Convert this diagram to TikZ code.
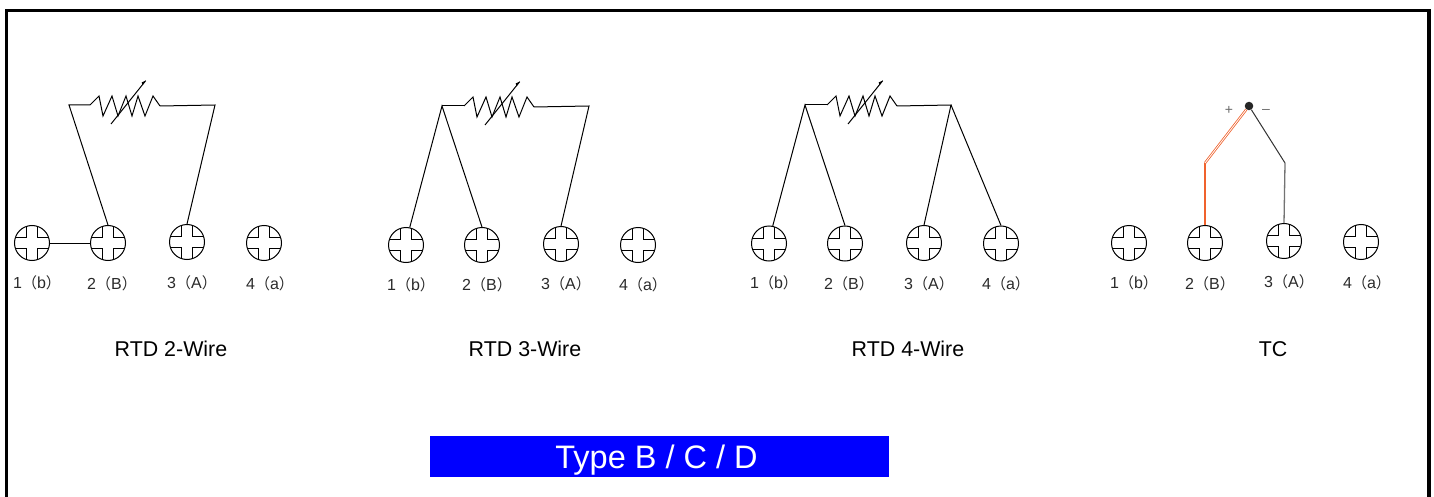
\documentclass[tikz,border=0pt]{standalone}
\usepackage{fontspec}
\setmainfont{Liberation Sans}
\newfontfamily\cjk{Noto Sans CJK SC}
\definecolor{wireorange}{HTML}{F0622D}
\definecolor{labelgray}{HTML}{2A2A2A}
\newcommand{\lbl}[2]{#1{\cjk\fontsize{15}{18}\selectfont（}#2{\cjk\fontsize{15}{18}\selectfont）}}
\tikzset{
  wire/.style={draw=black,line width=1pt},
  screw/.style={circle,draw=black,line width=1pt,minimum size=35pt,inner sep=0pt,
    path picture={
      \draw[line width=1pt] (path picture bounding box.center) ++(-5.5pt,-18pt) -- ++(0,12.5pt) -- ++(-12.5pt,0);
      \draw[line width=1pt] (path picture bounding box.center) ++(5.5pt,-18pt) -- ++(0,12.5pt) -- ++(12.5pt,0);
      \draw[line width=1pt] (path picture bounding box.center) ++(-5.5pt,18pt) -- ++(0,-12.5pt) -- ++(-12.5pt,0);
      \draw[line width=1pt] (path picture bounding box.center) ++(5.5pt,18pt) -- ++(0,-12.5pt) -- ++(12.5pt,0);
    }},
  pin/.style={text=labelgray,font=\fontsize{16}{18}\selectfont,inner sep=0pt,xshift=5pt},
  title/.style={text=black,font=\fontsize{21.4}{25}\selectfont,inner sep=0pt},
  sign/.style={text=labelgray!70,font=\fontsize{14}{16}\selectfont,inner sep=0pt},
  banner/.style={fill=blue,text=white,minimum width=459pt,minimum height=41pt,inner sep=0pt,
    text height=23pt,text depth=0pt,font=\fontsize{32.5}{36}\selectfont},
  rtd/.pic={
    \coordinate (-in) at (0,0);
    \coordinate (-out) at (70,1);
    \draw[line width=1pt] (0,0) -- (9,-9) -- (13,11) -- (22,-9) -- (28,11) -- (36,-9) -- (42,11) -- (48,-9) -- (55,11) -- (63,-9) -- (70,1);
    \draw[line width=1pt] (21,19) -- (55.7,-24.3);
    \fill (55.7,-24.3) -- (52.6,-19.8) -- (51.7,-22.6) -- cycle;
  }
}
\begin{document}
\begin{tikzpicture}[x=1pt,y=-1pt]
    \useasboundingbox (0,0) rectangle (1434,497);

    % Frame
    \draw[line width=3.2pt] (6.5,497) -- (6.5,10.5) -- (1429,10.5) -- (1429,497);

    % RTD 2-Wire
    \node[screw] (a1) at (32,243) {};
    \node[screw] (a2) at (108,243) {};
    \node[screw] (a3) at (187,242) {};
    \node[screw] (a4) at (264,243) {};
    \pic (ra) at (90,105) {rtd};
    \coordinate (atl) at (69,105);
    \coordinate (atr) at (215,105);
    \draw[wire] (a1) -- (a2);
    \draw[wire] (a2.north) -- (atl) -- (ra-in);
    \draw[wire] (ra-out) -- (atr) -- (a3.north);
    \node[pin] (la1) at (32,283) {\lbl{1}{b}};
    \node[pin] (la2) at (107,284) {\lbl{2}{B}};
    \node[pin] (la3) at (187,283) {\lbl{3}{A}};
    \node[pin] (la4) at (265,284) {\lbl{4}{a}};
    \node[title] (ta) at (171,349) {RTD 2-Wire};

    % RTD 3-Wire
    \node[screw] (b1) at (406,245) {};
    \node[screw] (b2) at (482,245) {};
    \node[screw] (b3) at (561,244) {};
    \node[screw] (b4) at (638,245) {};
    \pic (rb) at (464,106) {rtd};
    \coordinate (btl) at (442,106);
    \coordinate (btr) at (589,106);
    \draw[wire] (b1.78) -- (btl) -- (b2.north);
    \draw[wire] (btl) -- (rb-in);
    \draw[wire] (rb-out) -- (btr) -- (b3.north);
    \node[pin] (lb1) at (406,285) {\lbl{1}{b}};
    \node[pin] (lb2) at (482,285) {\lbl{2}{B}};
    \node[pin] (lb3) at (561,284) {\lbl{3}{A}};
    \node[pin] (lb4) at (638,285) {\lbl{4}{a}};
    \node[title] (tb) at (525,349) {RTD 3-Wire};

    % RTD 4-Wire
    \node[screw] (c1) at (769,243.5) {};
    \node[screw] (c2) at (845,243.5) {};
    \node[screw] (c3) at (924,243) {};
    \node[screw] (c4) at (1001,243.5) {};
    \pic (rc) at (827,105) {rtd};
    \coordinate (ctl) at (805,105);
    \coordinate (ctr) at (951,105);
    \draw[wire] (c1.78) -- (ctl) -- (c2.north);
    \draw[wire] (ctl) -- (rc-in);
    \draw[wire] (rc-out) -- (ctr) -- (c3.north);
    \draw[wire] (ctr) -- (c4.north);
    \node[pin] (lc1) at (769,283) {\lbl{1}{b}};
    \node[pin] (lc2) at (844,284) {\lbl{2}{B}};
    \node[pin] (lc3) at (924,284) {\lbl{3}{A}};
    \node[pin] (lc4) at (1001,284) {\lbl{4}{a}};
    \node[title] (tc) at (908,349) {RTD 4-Wire};

    % TC
    \node[screw] (d1) at (1129,243) {};
    \node[screw] (d2) at (1205,243) {};
    \node[screw] (d3) at (1284,241) {};
    \node[screw] (d4) at (1361,242) {};
    \node[circle,fill=black!85,inner sep=0pt,minimum size=8.5pt] (jn) at (1249,106) {};
    \coordinate (dp) at (1205,163);
    \coordinate (dm) at (1285,163);
    \draw[wireorange,line width=1.3pt] (d2.north) -- (dp);
    \draw[wireorange,double=white,line width=0.8pt,double distance=0.8pt] (dp) -- (jn);
    \draw[black!80,line width=1pt] (jn) -- (dm);
    \draw[black!55,line width=1.3pt] (dm) -- (d3.north);
    \node[sign] (sp) at (1229,110) {+};
    \node[sign] (sm) at (1266,111) {–};
    \node[pin] (ld1) at (1129,283) {\lbl{1}{b}};
    \node[pin] (ld2) at (1205,284) {\lbl{2}{B}};
    \node[pin] (ld3) at (1284,282) {\lbl{3}{A}};
    \node[pin] (ld4) at (1362,283) {\lbl{4}{a}};
    \node[title] (td) at (1273,349) {TC};

    % Type
    \node[banner] (type) at (659.5,456.5) {\hspace*{-6pt}Type B / C / D};

\end{tikzpicture}
\end{document}
